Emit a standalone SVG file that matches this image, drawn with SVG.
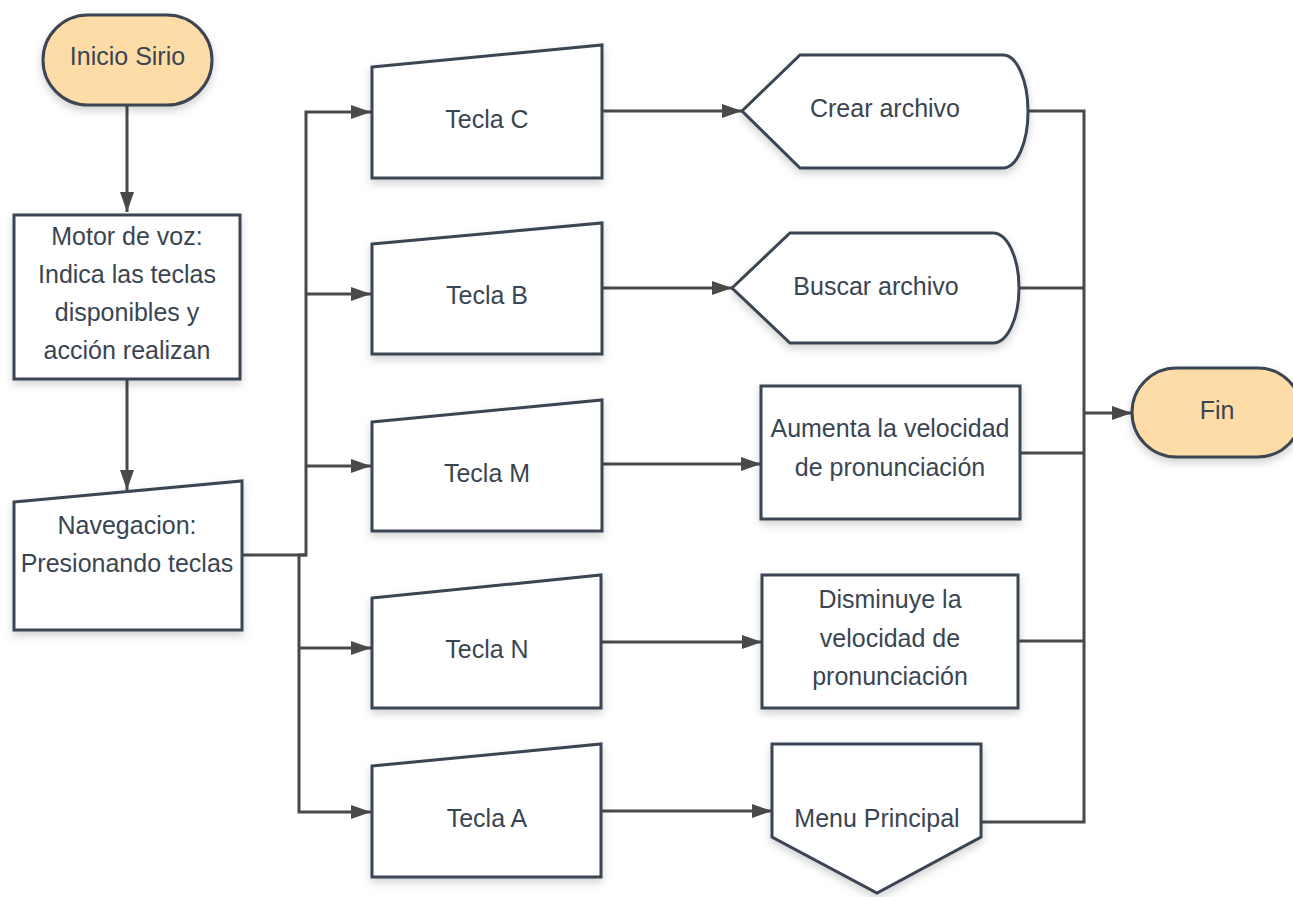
<svg xmlns="http://www.w3.org/2000/svg" width="1293" height="897" viewBox="0 0 1293 897">
  <defs>
    <filter id="shadow" x="-10%" y="-10%" width="120%" height="130%">
      <feDropShadow dx="0" dy="4" stdDeviation="4" flood-color="#000" flood-opacity="0.18"/>
    </filter>
    <marker id="arrow" viewBox="0 0 20 14" refX="20" refY="7" markerWidth="20" markerHeight="14" markerUnits="userSpaceOnUse" orient="auto">
      <path d="M0,0 L20,7 L0,14 Z" fill="#494949"/>
    </marker>
  </defs>
  <style>
    .shape { fill: #ffffff; stroke: #3a4552; stroke-width: 3; filter: url(#shadow); }
    .term { fill: #fedca8; stroke: #3a4552; stroke-width: 3; filter: url(#shadow); }
    .lbl { font-family: "Liberation Sans", Arial, sans-serif; font-size: 25px; fill: #3a4552; text-anchor: middle; }
    .edge { fill: none; stroke: #494949; stroke-width: 3; }
  </style>

  <rect width="1293" height="897" fill="#ffffff"/>

  <!-- connectors -->
  <g id="connectors">
    <path class="edge" d="M127 105 V212" marker-end="url(#arrow)"/>
    <path class="edge" d="M127 379 V490" marker-end="url(#arrow)"/>
    <!-- fan-out from Navegacion -->
    <path class="edge" d="M242 555 H306 V112 H371" marker-end="url(#arrow)"/>
    <path class="edge" d="M306 294 H371" marker-end="url(#arrow)"/>
    <path class="edge" d="M306 466 H371" marker-end="url(#arrow)"/>
    <path class="edge" d="M306 555 H299 V812 H371" marker-end="url(#arrow)"/>
    <path class="edge" d="M299 648 H371" marker-end="url(#arrow)"/>
    <!-- key to action -->
    <path class="edge" d="M602 111 H742" marker-end="url(#arrow)"/>
    <path class="edge" d="M602 288 H732" marker-end="url(#arrow)"/>
    <path class="edge" d="M602 464 H761" marker-end="url(#arrow)"/>
    <path class="edge" d="M601 642 H762" marker-end="url(#arrow)"/>
    <path class="edge" d="M601 811 H772" marker-end="url(#arrow)"/>
    <!-- merge into Fin -->
    <path class="edge" d="M1028 111 H1084 V822 H981"/>
    <path class="edge" d="M1019 288 H1084"/>
    <path class="edge" d="M1020 453 H1084"/>
    <path class="edge" d="M1018 641 H1084"/>
    <path class="edge" d="M1084 413 H1132" marker-end="url(#arrow)"/>
  </g>

  <g id="inicio">
    <rect class="term" x="43" y="15" width="169" height="90" rx="45" ry="45"/>
    <text class="lbl" x="127.5" y="65">Inicio Sirio</text>
  </g>

  <g id="motor">
    <rect class="shape" x="14" y="215" width="226" height="164"/>
    <text class="lbl" x="127" y="245">Motor de voz:</text>
    <text class="lbl" x="127" y="283">Indica las teclas</text>
    <text class="lbl" x="127" y="321">disponibles y</text>
    <text class="lbl" x="127" y="359">acción realizan</text>
  </g>

  <g id="navegacion">
    <polygon class="shape" points="14,502 242,481 242,630 14,630"/>
    <text class="lbl" x="127" y="534">Navegacion:</text>
    <text class="lbl" x="127" y="572">Presionando teclas</text>
  </g>

  <g id="tecla-c">
    <polygon class="shape" points="372,67 602,45 602,178 372,178"/>
    <text class="lbl" x="487" y="128">Tecla C</text>
  </g>
  <g id="tecla-b">
    <polygon class="shape" points="372,244 602,223 602,354 372,354"/>
    <text class="lbl" x="487" y="304">Tecla B</text>
  </g>
  <g id="tecla-m">
    <polygon class="shape" points="372,422 602,400 602,531 372,531"/>
    <text class="lbl" x="487" y="482">Tecla M</text>
  </g>
  <g id="tecla-n">
    <polygon class="shape" points="372,598 601,575 601,708 372,708"/>
    <text class="lbl" x="487" y="658">Tecla N</text>
  </g>
  <g id="tecla-a">
    <polygon class="shape" points="372,766 601,744 601,877 372,877"/>
    <text class="lbl" x="487" y="827">Tecla A</text>
  </g>

  <g id="crear">
    <path class="shape" d="M742 111 L800 55 H1003 A25 56.5 0 0 1 1003 168 H800 Z"/>
    <text class="lbl" x="885" y="117">Crear archivo</text>
  </g>
  <g id="buscar">
    <path class="shape" d="M732 288 L790 233 H993 A26 55 0 0 1 993 343 H790 Z"/>
    <text class="lbl" x="876" y="295">Buscar archivo</text>
  </g>

  <g id="aumenta">
    <rect class="shape" x="761" y="386" width="259" height="133"/>
    <text class="lbl" x="890" y="437">Aumenta la velocidad</text>
    <text class="lbl" x="890" y="476">de pronunciación</text>
  </g>

  <g id="disminuye">
    <rect class="shape" x="762" y="575" width="256" height="133"/>
    <text class="lbl" x="890" y="608">Disminuye la</text>
    <text class="lbl" x="890" y="647">velocidad de</text>
    <text class="lbl" x="890" y="685">pronunciación</text>
  </g>

  <g id="menu">
    <path class="shape" d="M772 744 H981 V837 L877 893 L772 837 Z"/>
    <text class="lbl" x="877" y="827">Menu Principal</text>
  </g>

  <g id="fin">
    <rect class="term" x="1132" y="368" width="170" height="89" rx="44.5" ry="44.5"/>
    <text class="lbl" x="1217" y="419">Fin</text>
  </g>
</svg>
